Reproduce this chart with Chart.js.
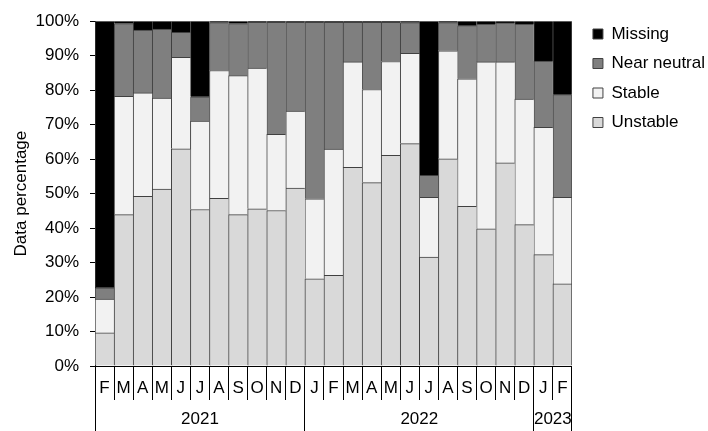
<!DOCTYPE html>
<html>
<head>
<meta charset="utf-8">
<script src="https://cdn.jsdelivr.net/npm/chart.js@4.4.0/dist/chart.umd.min.js"></script>
<style>
  html, body { margin: 0; padding: 0; background: #fff; }
  #wrap { width: 708px; height: 431px; position: relative; }
</style>
</head>
<body>
<div id="wrap"><canvas id="mainChart"></canvas></div>
<script>
// month labels, Feb 2021 .. Feb 2023
const months = ['F','M','A','M','J','J','A','S','O','N','D',
                'J','F','M','A','M','J','J','A','S','O','N','D',
                'J','F'];
const years = ['2021', '2022', '2023'];
const monthsPerYear = [11, 12, 2];

// percentages, bottom to top
const unstable = [9.6, 43.9, 49.2, 51.3, 63.0, 45.4, 48.6, 43.9, 45.6, 45.1, 51.6,
                  25.3, 26.3, 57.6, 53.2, 61.1, 64.5, 31.6, 60.1, 46.3, 39.8, 58.9, 41.0,
                  32.3, 23.8];
const stable = [9.8, 34.3, 30.0, 26.4, 26.5, 25.6, 37.1, 40.3, 40.8, 22.1, 22.3,
                23.2, 36.6, 30.6, 27.0, 27.2, 26.2, 17.3, 31.3, 37.0, 48.4, 29.3, 36.4,
                36.9, 25.1];
const nearNeutral = [3.3, 21.1, 18.2, 20.0, 7.3, 7.1, 13.9, 15.1, 13.3, 32.5, 25.8,
                     51.2, 36.8, 11.5, 19.5, 11.4, 8.9, 6.4, 8.2, 15.4, 11.0, 11.3, 21.8,
                     19.2, 29.8];
const missing = [77.3, 0.7, 2.6, 2.3, 3.2, 21.9, 0.4, 0.7, 0.3, 0.3, 0.3,
                 0.3, 0.3, 0.3, 0.3, 0.3, 0.4, 44.7, 0.4, 1.3, 0.8, 0.5, 0.8,
                 11.6, 21.3];

const yTicks = [0, 10, 20, 30, 40, 50, 60, 70, 80, 90, 100];

// year group boundaries and centres on the category index scale
const yearEdges = [-0.5];
const yearCentres = [];
monthsPerYear.forEach(n => {
    const start = yearEdges[yearEdges.length - 1];
    yearCentres.push(start + n / 2);
    yearEdges.push(start + n);
});

Chart.defaults.font.family = '"Liberation Sans", Arial, sans-serif';
Chart.defaults.font.size = 17;
Chart.defaults.color = '#000';

const last = months.length - 1;
const edgeBorder = ctx => ({ top: 1, left: 1, bottom: 0, right: ctx.dataIndex === last ? 1 : 0 });

function series(label, data, color) {
    return {
        label: label, data: data, backgroundColor: color,
        borderColor: '#404040', borderWidth: edgeBorder,
        barPercentage: 1, categoryPercentage: 1,
        xAxisID: 'x', yAxisID: 'y'
    };
}

const ctx = document.getElementById('mainChart').getContext('2d');
new Chart(ctx, {
    type: 'bar',
    data: {
        labels: months,
        datasets: [
            series('Unstable', unstable, '#d9d9d9'),
            series('Stable', stable, '#f2f2f2'),
            series('Near neutral', nearNeutral, '#7f7f7f'),
            series('Missing', missing, '#000000')
        ]
    },
    options: {
        animation: false,
        responsive: true,
        maintainAspectRatio: false,
        layout: { padding: { top: 13, right: -7, bottom: 0, left: 0 } },
        plugins: {
            tooltip: { enabled: false },
            legend: {
                position: 'right',
                align: 'start',
                reverse: true,
                labels: {
                    boxWidth: 10, boxHeight: 10, padding: 12.5,
                    font: { size: 17 },
                    generateLabels: chart => Chart.defaults.plugins.legend.labels
                        .generateLabels(chart).map(l => ({ ...l, lineWidth: 1 }))
                }
            }
        },
        scales: {
            x: {
                type: 'category',
                stacked: true,
                offset: true,
                ticks: { autoSkip: false, maxRotation: 0, padding: -22.2 },
                grid: { drawOnChartArea: false, offset: true, tickLength: 34, color: '#000' },
                border: { display: true, color: '#000' },
                afterFit: s => { s.height = 34; }
            },
            y: {
                stacked: true,
                min: 0, max: 100,
                afterBuildTicks: s => { s.ticks = yTicks.map(v => ({ value: v })); },
                ticks: { padding: 11, callback: v => v + '%' },
                grid: { drawOnChartArea: false, tickLength: 5, color: '#000' },
                border: { display: true, color: '#000' },
                title: { display: true, text: 'Data percentage', font: { size: 17 }, padding: { top: 11, bottom: 0 } },
                afterFit: s => { s.width = 95; }
            },
            x2: {
                type: 'linear',
                position: 'bottom',
                weight: 1,
                offset: false,
                bounds: 'data',
                min: -0.5,
                max: last + 0.5,
                afterBuildTicks: s => {
                    s.ticks = yearEdges.concat(yearCentres).sort((a, b) => a - b).map(v => ({ value: v }));
                },
                ticks: {
                    autoSkip: false, maxRotation: 0, padding: -22.2,
                    callback: v => {
                        const i = yearCentres.indexOf(v);
                        return i >= 0 ? years[i] : '';
                    }
                },
                grid: {
                    drawOnChartArea: false, offset: false, tickLength: 31,
                    color: c => (c.tick && yearEdges.includes(c.tick.value)) ? '#000' : 'rgba(0,0,0,0)'
                },
                border: { display: false },
                afterFit: s => { s.height = 31; }
            },
            // hidden spacers: room above the bars and between bars and legend
            xTop: {
                type: 'linear', position: 'top', display: false, offset: false,
                afterFit: s => { s.height = 5; }
            },
            yGap: {
                type: 'linear', position: 'right', display: false,
                afterFit: s => { s.width = 8.5; }
            }
        }
    }
});
</script>
</body>
</html>
